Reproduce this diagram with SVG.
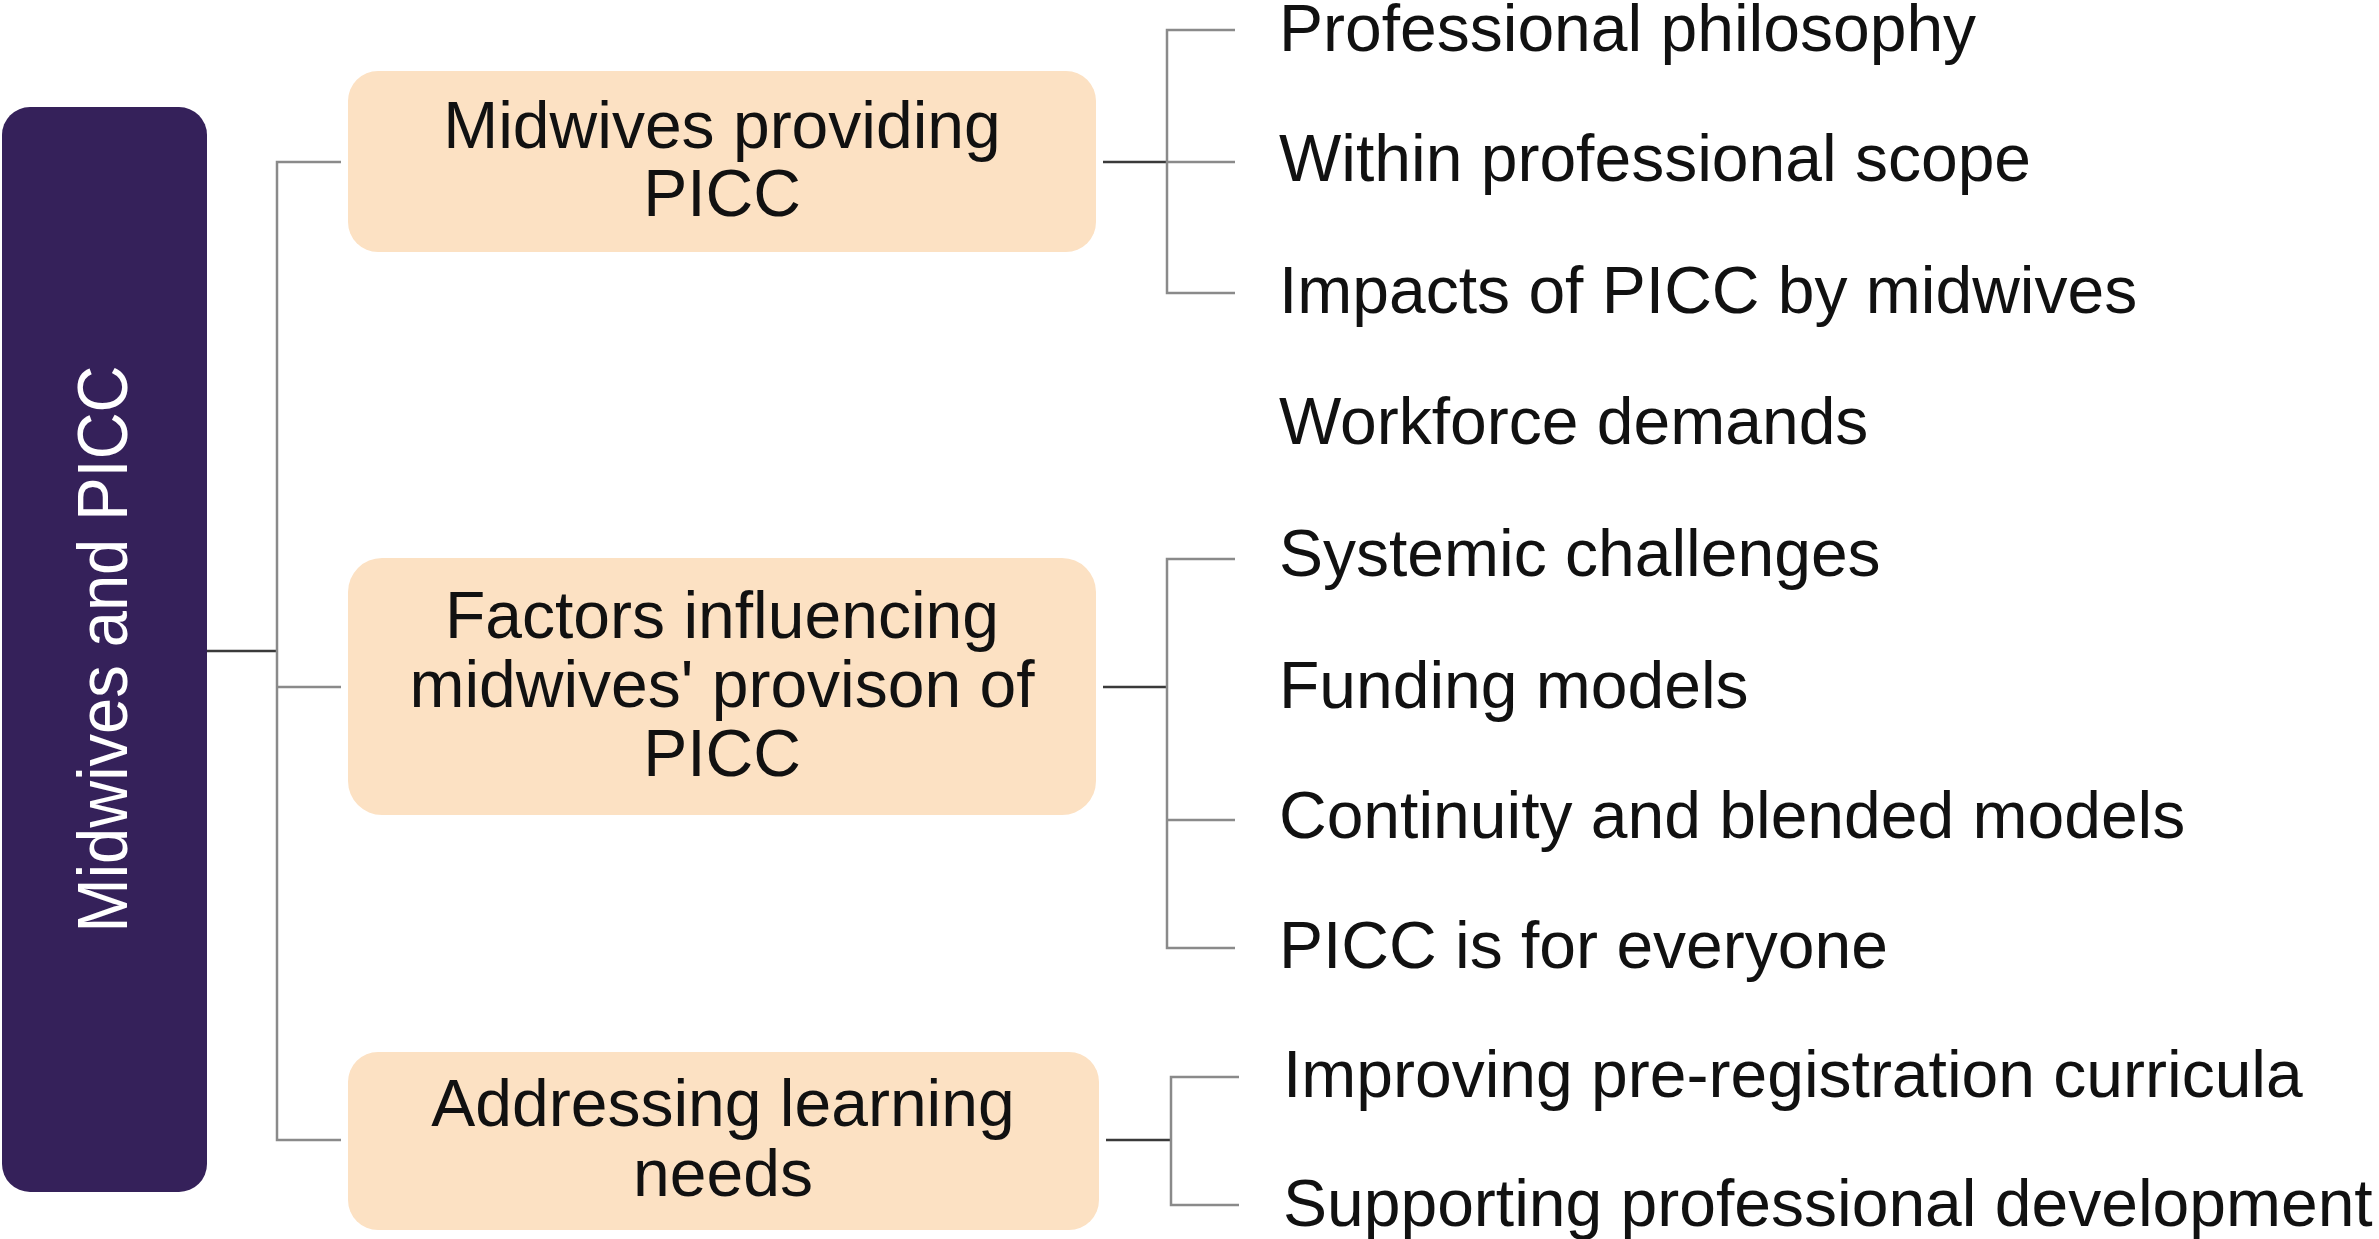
<svg xmlns="http://www.w3.org/2000/svg" width="2379" height="1239" viewBox="0 0 2379 1239">
<style>
.bg{fill:#ffffff}
.root{fill:#35215a}
.box{fill:#fce1c3}
.t{font-family:"Liberation Sans",Arial,Helvetica,sans-serif;font-size:66px;fill:#111111}
.c{text-anchor:middle}
.rt{font-family:"Liberation Sans",Arial,Helvetica,sans-serif;font-size:65px;fill:#ffffff;text-anchor:middle}
.dk{stroke:#3a3a3a;stroke-width:2.5;fill:none}
.lt{stroke:#8a8a8a;stroke-width:2.5;fill:none}
</style>
<rect class="bg" x="0" y="0" width="2379" height="1239"/>
<g id="connectors">
  <line class="dk" x1="207" y1="651" x2="277" y2="651"/>
  <path class="lt" d="M341 162 H277 V1140 H341"/>
  <line class="lt" x1="277" y1="687" x2="341" y2="687"/>
  <line class="dk" x1="1103" y1="162" x2="1167" y2="162"/>
  <path class="lt" d="M1235 30 H1167 V293 H1235"/>
  <line class="lt" x1="1167" y1="162" x2="1235" y2="162"/>
  <line class="dk" x1="1103" y1="687" x2="1167" y2="687"/>
  <path class="lt" d="M1235 559 H1167 V948 H1235"/>
  <line class="lt" x1="1167" y1="820" x2="1235" y2="820"/>
  <line class="dk" x1="1106" y1="1140" x2="1171" y2="1140"/>
  <path class="lt" d="M1239 1077 H1171 V1205 H1239"/>
</g>
<g id="root">
  <rect class="root" x="2" y="107" width="205" height="1085" rx="28" ry="28"/>
  <text class="rt" transform="translate(127,649) rotate(-90) scale(1,1.07)">Midwives and PICC</text>
</g>
<g id="node-providing">
  <rect class="box" x="348" y="71" width="748" height="181" rx="30" ry="30"/>
  <text class="t c" x="722" y="148">Midwives providing</text>
  <text class="t c" x="722" y="216">PICC</text>
</g>
<g id="node-factors">
  <rect class="box" x="348" y="558" width="748" height="257" rx="34" ry="34"/>
  <text class="t c" x="722" y="638">Factors influencing</text>
  <text class="t c" x="722" y="707">midwives' provison of</text>
  <text class="t c" x="722" y="776">PICC</text>
</g>
<g id="node-learning">
  <rect class="box" x="348" y="1052" width="751" height="178" rx="30" ry="30"/>
  <text class="t c" x="723" y="1126">Addressing learning</text>
  <text class="t c" x="723" y="1196">needs</text>
</g>
<g id="leaf-1"><text class="t" x="1279" y="51">Professional philosophy</text></g>
<g id="leaf-2"><text class="t" x="1279" y="181">Within professional scope</text></g>
<g id="leaf-3"><text class="t" x="1279" y="313">Impacts of PICC by midwives</text></g>
<g id="leaf-4"><text class="t" x="1279" y="444">Workforce demands</text></g>
<g id="leaf-5"><text class="t" x="1279" y="576">Systemic challenges</text></g>
<g id="leaf-6"><text class="t" x="1279" y="708">Funding models</text></g>
<g id="leaf-7"><text class="t" x="1279" y="838">Continuity and blended models</text></g>
<g id="leaf-8"><text class="t" x="1279" y="968">PICC is for everyone</text></g>
<g id="leaf-9"><text class="t" x="1283" y="1097">Improving pre-registration curricula</text></g>
<g id="leaf-10"><text class="t" x="1283" y="1226">Supporting professional development</text></g>
</svg>
